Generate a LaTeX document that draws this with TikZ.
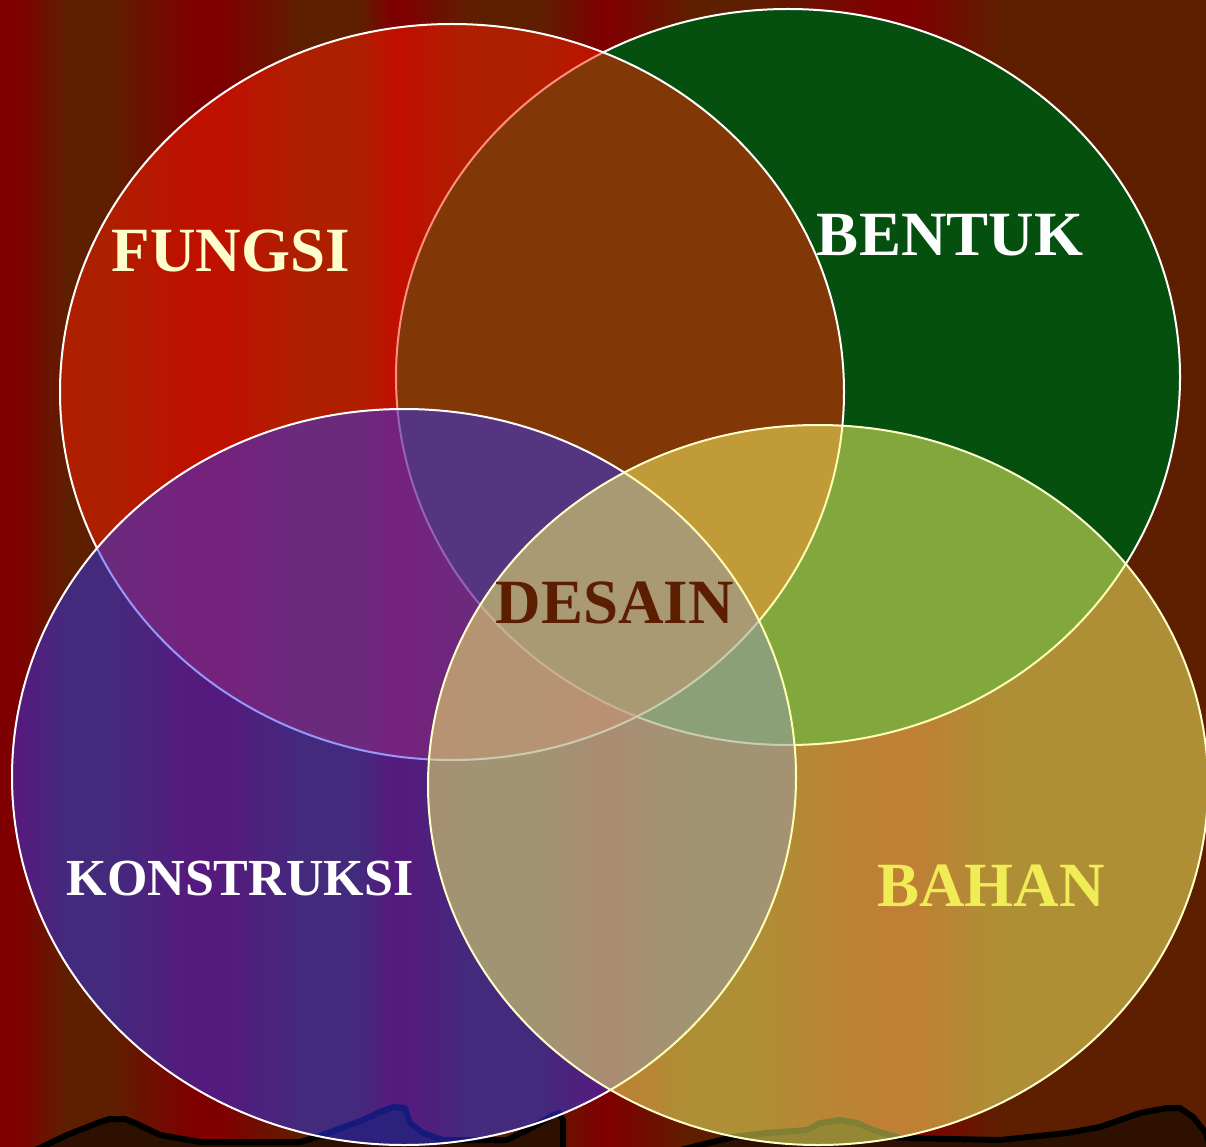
\documentclass[tikz,border=0pt]{standalone}
\usepackage{fontspec}
\setmainfont{Liberation Serif}
\usepackage{tikz}
\usetikzlibrary{shapes.geometric}
\definecolor{BgRed}{HTML}{7F0000}
\definecolor{BgBrown}{HTML}{5E1F00}
\definecolor{HillFill}{HTML}{2E1000}
\definecolor{FunRed}{HTML}{FF2000}
\definecolor{FormGreen}{HTML}{05500F}
\definecolor{BuildBlue}{HTML}{2C35FA}
\definecolor{MatYellow}{HTML}{FFFF6A}
\definecolor{LabCream}{HTML}{FFFFCC}
\definecolor{LabYellow}{HTML}{F0EC55}
\definecolor{LabBrown}{HTML}{5C1E00}
\tikzset{
  venn/.style={ellipse, draw=white, line width=2pt, fill=#1, inner sep=0pt,
               minimum width=784pt, minimum height=736pt},
  veil/.style={fill opacity=0.5},
  hill/.style={draw=black, line width=6pt, fill=HillFill, line join=round},
  vlabel/.style={font=\bfseries\fontsize{63}{63}\selectfont, text=#1, anchor=base, inner sep=0pt},
}
\begin{document}
\begin{tikzpicture}[x=1pt, y=-1pt]
\useasboundingbox (0,0) rectangle (1206,1147);
% ---------- striped backdrop
\foreach \xa/\xb/\ca/\cb in {0/18/BgRed/BgRed, 18/65/BgRed/BgBrown, 65/110/BgBrown/BgBrown,
    110/192/BgBrown/BgRed, 192/223/BgRed/BgRed, 223/300/BgRed/BgBrown, 300/360/BgBrown/BgBrown,
    360/390/BgBrown/BgRed, 390/403/BgRed/BgRed, 403/470/BgRed/BgBrown, 470/540/BgBrown/BgBrown,
    540/600/BgBrown/BgRed, 600/610/BgRed/BgRed, 610/690/BgRed/BgBrown, 690/750/BgBrown/BgBrown,
    750/880/BgBrown/BgRed, 880/913/BgRed/BgRed, 913/1000/BgRed/BgBrown, 1000/1206/BgBrown/BgBrown}{
  \fill[left color=\ca, right color=\cb] (\xa,-2) rectangle (\xb+0.6,1150);
}
% ---------- hills along the bottom
\draw[hill] (25,1155) -- (67,1135) -- (100,1122) -- (110,1119) -- (125,1119) -- (135,1123)
  -- (160,1135) -- (200,1142) -- (300,1142) -- (320,1136) -- (363,1120) -- (380,1112)
  -- (393,1107) -- (405,1108) -- (410,1123) -- (423,1133) -- (443,1140) -- (507,1140)
  -- (533,1127) -- (553,1115) -- (559,1113) -- (563,1120) -- (563,1155) -- cycle;
\draw[hill] (660,1155) -- (733,1137) -- (767,1133) -- (807,1130) -- (820,1123) -- (840,1120)
  -- (857,1123) -- (873,1130) -- (900,1138) -- (1000,1140) -- (1067,1133) -- (1100,1127)
  -- (1140,1113) -- (1167,1108) -- (1180,1108) -- (1193,1117) -- (1206,1133) -- (1212,1155) -- cycle;
% ---------- the four sets
\node[venn=FormGreen] (bentuk) at (788,377) {};
\node[venn=FunRed, veil] (fungsi) at (452,392) {};
\node[venn=BuildBlue, veil] (konstruksi) at (404,777) {};
\node[venn=MatYellow, veil, draw=LabCream, minimum width=780pt, minimum height=720pt] (bahan) at (818,785) {};
% ---------- labels
\node[vlabel=LabCream] (fungsiL) at (231,272) {FUNGSI};
\node[vlabel=white] (bentukL) at (950,256) {BENTUK};
\node[vlabel=white, font=\bfseries\fontsize{52}{52}\selectfont] (konstruksiL) at (240,895) {KONSTRUKSI};
\node[vlabel=LabYellow] (bahanL) at (991,906) {BAHAN};
\node[vlabel=LabBrown] (desainL) at (615,623) {DESAIN};
\end{tikzpicture}
\end{document}
